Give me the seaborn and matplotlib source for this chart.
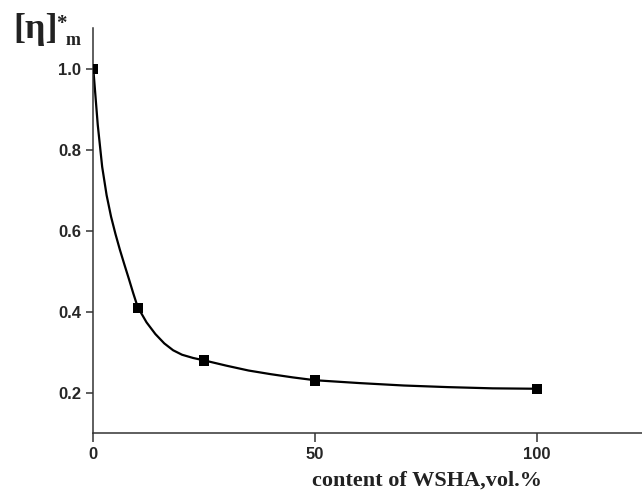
import matplotlib
matplotlib.use("Agg")
import matplotlib.pyplot as plt
import seaborn as sns
import pandas as pd

# measured points
content = [0, 10, 25, 50, 100]
eta = [1.00, 0.41, 0.28, 0.23, 0.21]

# fitted curve
fit_x = [0, 1, 2, 3, 4, 5, 6, 7, 8, 9, 10, 12, 14, 16, 18, 20, 22.5, 25,
         30, 35, 40, 45, 50, 60, 70, 80, 90, 100]
fit_y = [1.00, 0.862, 0.758, 0.688, 0.635, 0.592, 0.553, 0.517, 0.482, 0.446,
         0.412, 0.374, 0.345, 0.322, 0.305, 0.294, 0.286, 0.280,
         0.267, 0.255, 0.246, 0.238, 0.231, 0.224, 0.218, 0.214, 0.211, 0.210]

x_ticks = [0, 50, 100]
y_ticks = [0.2, 0.4, 0.6, 0.8, 1.0]
y_ticklabels = ["0.2", "0.4", "0.6", "0.8", "1.0"]

sns.set_style("ticks")
plt.rcParams["font.family"] = ["Liberation Sans", "DejaVu Sans"]

fig = plt.figure(figsize=(6.42, 4.95), dpi=100)
ax = fig.add_axes([93.3 / 642, 1 - 433.3 / 495, 1 - 93.3 / 642, (433.3 - 28.3) / 495])

pts = pd.DataFrame({"content": content, "eta": eta})
fit = pd.DataFrame({"x": fit_x, "y": fit_y})

sns.lineplot(data=fit, x="x", y="y", ax=ax, color="black", linewidth=1.6,
             sort=False, estimator=None)
sns.scatterplot(data=pts, x="content", y="eta", ax=ax, marker="s", s=55,
                color="black", edgecolor="none", zorder=3)

ax.set_xlim(0, 123.7)
ax.set_ylim(0.1, 1.1)
ax.set_xticks(x_ticks)
ax.set_xticklabels([str(t) for t in x_ticks])
ax.set_yticks(y_ticks)
ax.set_yticklabels(y_ticklabels)

for side in ["top", "right"]:
    ax.spines[side].set_visible(False)
for side in ["left", "bottom"]:
    ax.spines[side].set_linewidth(1.1)
    ax.spines[side].set_color("#333333")

ax.tick_params(axis="x", length=6.7, width=1.1, color="#333333", pad=3.5,
               labelsize=12)
ax.tick_params(axis="y", length=5.3, width=1.1, color="#333333", pad=3.6,
               labelsize=12)
for lbl in ax.get_xticklabels() + ax.get_yticklabels():
    lbl.set_fontweight("bold")

ax.set_ylabel("")
ax.set_xlabel("content of WSHA,vol.%", fontsize=16, fontweight="bold",
              family=["Liberation Serif", "DejaVu Serif"], color="#222222")
ax.xaxis.set_label_coords(0.608, -0.093)

serif = ["Liberation Serif", "DejaVu Serif"]
fig.text(13 / 642, 1 - 38 / 495, "[η]", fontsize=26, fontweight="bold",
         family=serif, va="baseline", ha="left", color="#222222")
fig.text(56 / 642, 1 - 29 / 495, "*", fontsize=15, fontweight="bold",
         family=serif, va="baseline", ha="left", color="#222222")
fig.text(66 / 642, 1 - 45 / 495, "m", fontsize=13, fontweight="bold",
         family=serif, va="baseline", ha="left", color="#222222")

fig.savefig("out.png", dpi=100)
